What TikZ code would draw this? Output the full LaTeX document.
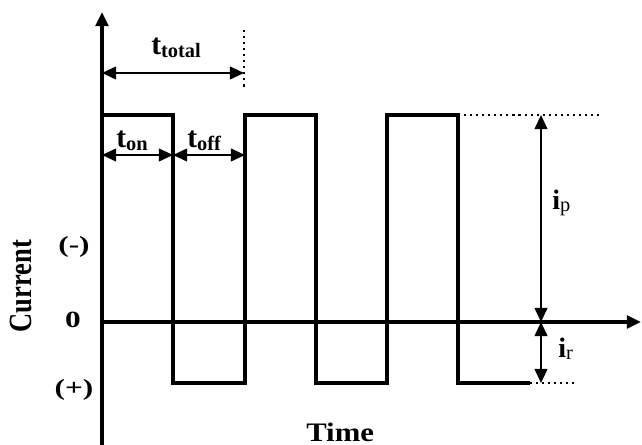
\documentclass[tikz,border=0pt]{standalone}
\usepackage{fontspec}
\usepackage{graphicx}
\setmainfont{Liberation Serif}
\usetikzlibrary{arrows.meta}
\newcommand{\tlabel}[1]{{\fontsize{21}{21}\selectfont\bfseries t}\raisebox{-2pt}{\fontsize{14.5}{14.5}\selectfont\bfseries #1}}
\newcommand{\ilabel}[1]{{\fontsize{20}{20}\selectfont\bfseries i}\raisebox{-1.5pt}{\fontsize{14.5}{14.5}\selectfont #1}}
\newcommand{\wide}[1]{\scalebox{1.35}[1]{#1}}
\tikzset{
  axis/.style={line width=2.2pt, -{Triangle[length=10pt,width=9pt]}},
  wave/.style={line width=2.2pt, line join=miter},
  dim/.style={line width=1.4pt, {Triangle[length=10pt,width=9pt]}-{Triangle[length=10pt,width=9pt]}},
  guide/.style={line width=1.5pt, dash pattern=on 1.5pt off 2.8pt},
  lbl/.style={inner sep=0pt, anchor=base west},
  tick/.style={inner sep=0pt, font=\fontsize{16.5}{16.5}\selectfont\bfseries},
}
\begin{document}
\begin{tikzpicture}[x=0.025cm, y=-0.025cm]
    \useasboundingbox (0,0) rectangle (642,445);
    % axes
    \coordinate (ybot) at (102,445);
    \coordinate (ytop) at (102,12);
    \coordinate (zero) at (102,322);
    \coordinate (xend) at (641,322);
    \draw (ybot)--(ytop) [axis];
    \draw (zero)--(xend) [axis];
    % pulse train
    \coordinate (hi) at (102,115);
    \coordinate (tail) at (530,383);
    \draw (hi) -| (173,383) -| (245,115) -| (316,383) -| (387,115) -| (458,383) -- (tail) [wave];
    % dotted guides
    \coordinate (pk) at (458,115);
    \coordinate (pkend) at (602,115);
    \coordinate (tailend) at (575,383);
    \coordinate (perA) at (244,30);
    \coordinate (perB) at (244,90);
    \draw (pk)--(pkend) [guide];
    \draw (tail)--(tailend) [guide];
    \draw (perA)--(perB) [guide];
    % dimension arrows
    \coordinate (totL) at (102,73);
    \coordinate (totR) at (244,73);
    \coordinate (onL) at (102,155);
    \coordinate (onR) at (173,155);
    \coordinate (offR) at (245,155);
    \coordinate (ipT) at (541,115);
    \coordinate (ipB) at (541,322);
    \coordinate (irB) at (541,383);
    \draw (totL)--(totR) [dim];
    \draw (onL)--(onR) [dim];
    \draw (onR)--(offR) [dim];
    \draw (ipT)--(ipB) [dim];
    \draw (ipB)--(irB) [dim];
    % labels
    \node (ttotal) at (151,55) [lbl] {\tlabel{total}};
    \node (ton) at (116,148) [lbl] {\tlabel{on}};
    \node (toff) at (187,148) [lbl] {\tlabel{off}};
    \node (ip) at (552,209) [lbl] {\ilabel{p}};
    \node (ir) at (558,357) [lbl] {\ilabel{r}};
    \node (current) at (21,286) [rotate=90, inner sep=0pt, font=\fontsize{23}{23}\selectfont\bfseries] {\scalebox{0.82}[1]{Current}};
    \node (neg) at (74,247) [tick] {\wide{(-)}};
    \node (nil) at (73,320) [tick] {\wide{0}};
    \node (pos) at (74,390) [tick] {\wide{(+)}};
    \node (time) at (306,441) [lbl, font=\fontsize{19}{19}\selectfont\bfseries] {\scalebox{1.15}[1]{Time}};
\end{tikzpicture}
\end{document}
